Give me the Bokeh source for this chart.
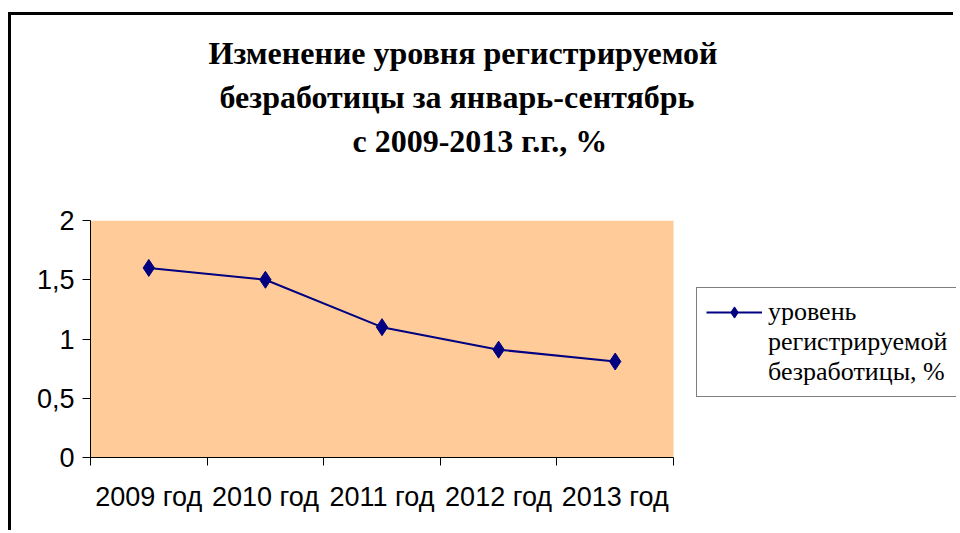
from bokeh.plotting import figure
from bokeh.models import (Range1d, FixedTicker, Title, Legend, LegendItem,
                          ColumnDataSource, BoxAnnotation)
from bokeh.embed import file_html
from bokeh.resources import INLINE

# ---- data ----
years = ["2009 год", "2010 год", "2011 год", "2012 год", "2013 год"]
rate = [1.6, 1.5, 1.1, 0.91, 0.81]
y_ticks = [0, 0.5, 1, 1.5, 2]
y_tick_labels = ["0", "0,5", "1", "1,5", "2"]
title_lines = ["Изменение уровня регистрируемой",
               "безработицы за январь-сентябрь",
               "с 2009-2013 г.г., %"]
legend_lines = ["уровень", "регистрируемой", "безработицы, %"]

# canvas is offset on the page by (11, 15) because of margin + border
W, H = 945, 518
FL, FR, FT, FB = 79, 662, 205, 442   # plot-area edges in canvas pixels
n = len(years)
centers = [i + 0.5 for i in range(n)]
bounds = list(range(n + 1))
# the frame runs to the right canvas edge (so the legend is not clipped);
# the shaded plot area itself spans categories 0..n only
x_end = n * (W - FL) / (FR - FL)

p = figure(width=W, height=H, output_backend="svg", toolbar_location=None,
           x_range=Range1d(0, x_end), y_range=Range1d(y_ticks[0], y_ticks[-1]),
           min_border_left=FL, min_border_right=0,
           min_border_top=FT, min_border_bottom=H - FB)
p.styles = {"margin-left": "8px", "margin-top": "12px",
            "border-left": "3px solid black", "border-top": "3px solid black"}
p.background_fill_color = "white"
p.border_fill_color = "white"
p.outline_line_color = None
p.grid.visible = False

p.add_layout(BoxAnnotation(left=0, right=n, bottom=y_ticks[0], top=y_ticks[-1],
                           fill_color="#FFCC99", fill_alpha=1, line_color=None,
                           level="underlay"))

src = ColumnDataSource(dict(x=centers, y=rate))
ln = p.line("x", "y", source=src, line_color="#000080", line_width=2)
mk = p.scatter("x", "y", source=src, marker="diamond", size=17,
               fill_color="#000080", line_color="#000080")
# empty, invisible renderer used only to carry the wrapped legend lines
blank = p.line(x=[], y=[], line_alpha=0)

# x axis: labels at centers, tick marks at boundaries
xa = p.xaxis[0]
xa.bounds = (0, n)
xa.ticker = FixedTicker(ticks=centers, minor_ticks=bounds)
xa.major_label_overrides = {c: y for c, y in zip(centers, years)}
xa.major_tick_line_color = None
xa.major_tick_out = 0
xa.major_tick_in = 0
xa.minor_tick_out = 8
xa.minor_tick_in = 0
xa.minor_tick_line_color = "black"
xa.axis_line_color = "black"
xa.major_label_standoff = 16
xa.major_label_text_font = "Liberation Sans"
xa.major_label_text_font_size = "27px"
xa.major_label_text_color = "black"

ya = p.yaxis[0]
ya.ticker = FixedTicker(ticks=y_ticks, minor_ticks=[])
ya.major_label_overrides = {t: l for t, l in zip(y_ticks, y_tick_labels)}
ya.major_tick_out = 8
ya.major_tick_in = 0
ya.major_tick_line_color = "black"
ya.axis_line_color = "black"
ya.major_label_standoff = 8
ya.major_label_text_font = "Liberation Sans"
ya.major_label_text_font_size = "27px"
ya.major_label_text_color = "black"

# legend
items = [LegendItem(label=legend_lines[0], renderers=[ln, mk])]
items += [LegendItem(label=t, renderers=[blank]) for t in legend_lines[1:]]
leg = Legend(items=items,
             location=(606, 60), border_line_color="black", border_line_width=1,
             background_fill_alpha=1, background_fill_color="white",
             label_text_font="Liberation Serif", label_text_font_size="26px",
             label_text_color="black",
             glyph_width=56, glyph_height=28, label_height=30, spacing=0,
             label_standoff=6, padding=9, margin=0)
p.add_layout(leg, "center")

# spacer between the title block and the plot area
p.add_layout(Title(text=" ", standoff=4, text_font_size="48px"), "above")
# title lines (added nearest-first)
offsets = [118, 129, 262]
for txt, off in reversed(list(zip(title_lines, offsets))):
    p.add_layout(Title(text=txt, align="left", offset=off, standoff=6,
                       text_font="Liberation Serif", text_font_style="bold",
                       text_font_size="32px", text_color="black"), "above")

open("out.html", "w").write(file_html(p, INLINE))
